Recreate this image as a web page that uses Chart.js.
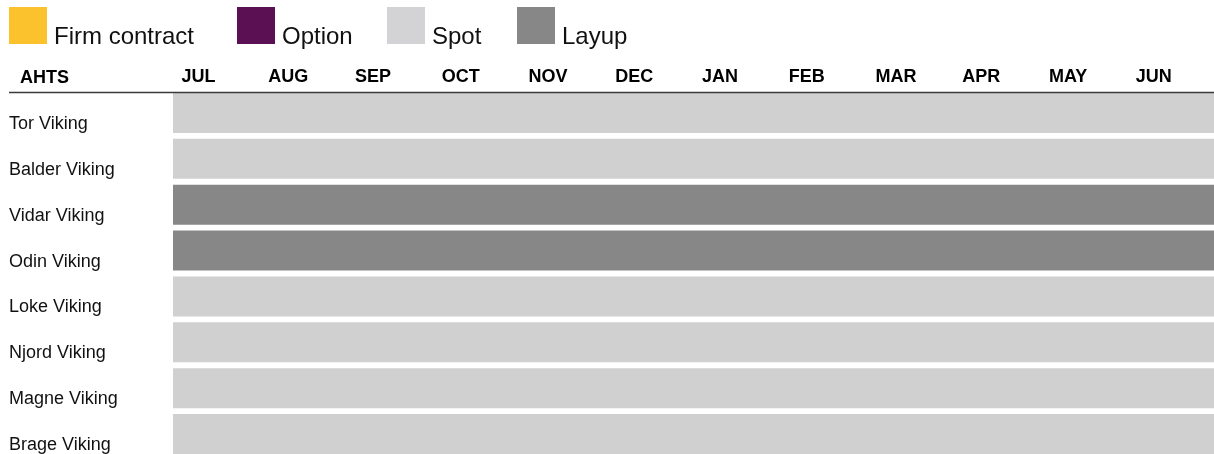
<!DOCTYPE html>
<html>
<head>
<meta charset="utf-8">
<script src="https://cdn.jsdelivr.net/npm/chart.js@4.4.1/dist/chart.umd.min.js"></script>
<style>
    html, body { margin: 0; padding: 0; background: #fff; overflow: hidden; }
    canvas { display: block; }
</style>
</head>
<body>
<canvas id="fleetChart" width="1214" height="458"></canvas>
<script>
const ships = ['Tor Viking', 'Balder Viking', 'Vidar Viking', 'Odin Viking', 'Loke Viking', 'Njord Viking', 'Magne Viking', 'Brage Viking'];
const months = ['JUL', 'AUG', 'SEP', 'OCT', 'NOV', 'DEC', 'JAN', 'FEB', 'MAR', 'APR', 'MAY', 'JUN'];

// [start month, end month] counted from July
const firmContract = [null, null, null, null, null, null, null, null];
const option = [null, null, null, null, null, null, null, null];
const spot = [[0, 12], [0, 12], null, null, [0, 12], [0, 12], [0, 12], [0, 12]];
const layup = [null, null, [0, 12], [0, 12], null, null, null, null];

const FONT = '"Liberation Sans", Arial, Helvetica, sans-serif';

document.addEventListener('DOMContentLoaded', () => {
    const ctx = document.getElementById('fleetChart').getContext('2d');

    // legend + header row drawn on the canvas
    const headerPlugin = {
        id: 'header',
        afterDraw(chart) {
            const c = chart.ctx;
            const legendX = [9, 237, 387, 517];
            c.save();
            chart.data.datasets.forEach((ds, i) => {
                c.fillStyle = ds.swatch;
                c.fillRect(legendX[i], 7, 38, 37);
                c.fillStyle = '#111';
                c.font = '24px ' + FONT;
                c.textAlign = 'left';
                c.textBaseline = 'alphabetic';
                c.fillText(ds.label, legendX[i] + 45, 44);
            });
            c.font = 'bold 18px ' + FONT;
            c.fillStyle = '#000';
            c.fillText('AHTS', 20, 83);
            c.strokeStyle = '#3a3a3a';
            c.lineWidth = 1.5;
            c.beginPath();
            c.moveTo(9, 92.5);
            c.lineTo(chart.chartArea.right, 92.5);
            c.stroke();
            c.restore();
        }
    };

    const chart = new Chart(ctx, {
        type: 'bar',
        data: {
            labels: ships,
            datasets: [
                { label: 'Firm contract', data: firmContract, backgroundColor: '#fbc22e', swatch: '#fbc22e' },
                { label: 'Option', data: option, backgroundColor: '#5c1054', swatch: '#5c1054' },
                { label: 'Spot', data: spot, backgroundColor: '#d0d0d0', swatch: '#d3d2d5' },
                { label: 'Layup', data: layup, backgroundColor: '#878787', swatch: '#878787' }
            ]
        },
        options: {
            indexAxis: 'y',
            responsive: false,
            animation: false,
            devicePixelRatio: 1,
            layout: { padding: { left: 9, right: 0, top: 0, bottom: 1 } },
            datasets: {
                bar: {
                    grouped: false,
                    barPercentage: 0.872,
                    categoryPercentage: 1,
                    borderWidth: 0
                }
            },
            plugins: {
                legend: { display: false },
                tooltip: { enabled: false }
            },
            scales: {
                x: {
                    type: 'linear',
                    position: 'top',
                    min: 0,
                    max: 12,
                    afterFit: (scale) => {
                        scale.height = 90;
                        scale.paddingLeft = 0;
                        scale.paddingRight = 0;
                    },
                    grid: { display: false, drawTicks: false },
                    border: { display: false },
                    ticks: {
                        stepSize: 1,
                        autoSkip: false,
                        maxRotation: 0,
                        align: 'start',
                        labelOffset: 8.5,
                        padding: 2.5,
                        color: '#000',
                        font: { family: FONT, size: 18, weight: 'bold' },
                        callback: (v) => months[v] || ''
                    }
                },
                y: {
                    afterFit: (scale) => {
                        scale.width = 164;
                        scale.paddingTop = 0;
                        scale.paddingBottom = 0;
                    },
                    grid: { display: false },
                    border: { display: false },
                    ticks: {
                        crossAlign: 'far',
                        labelOffset: 11,
                        color: '#111',
                        font: { family: FONT, size: 18 }
                    }
                }
            }
        },
        plugins: [headerPlugin]
    });
});
</script>
</body>
</html>
